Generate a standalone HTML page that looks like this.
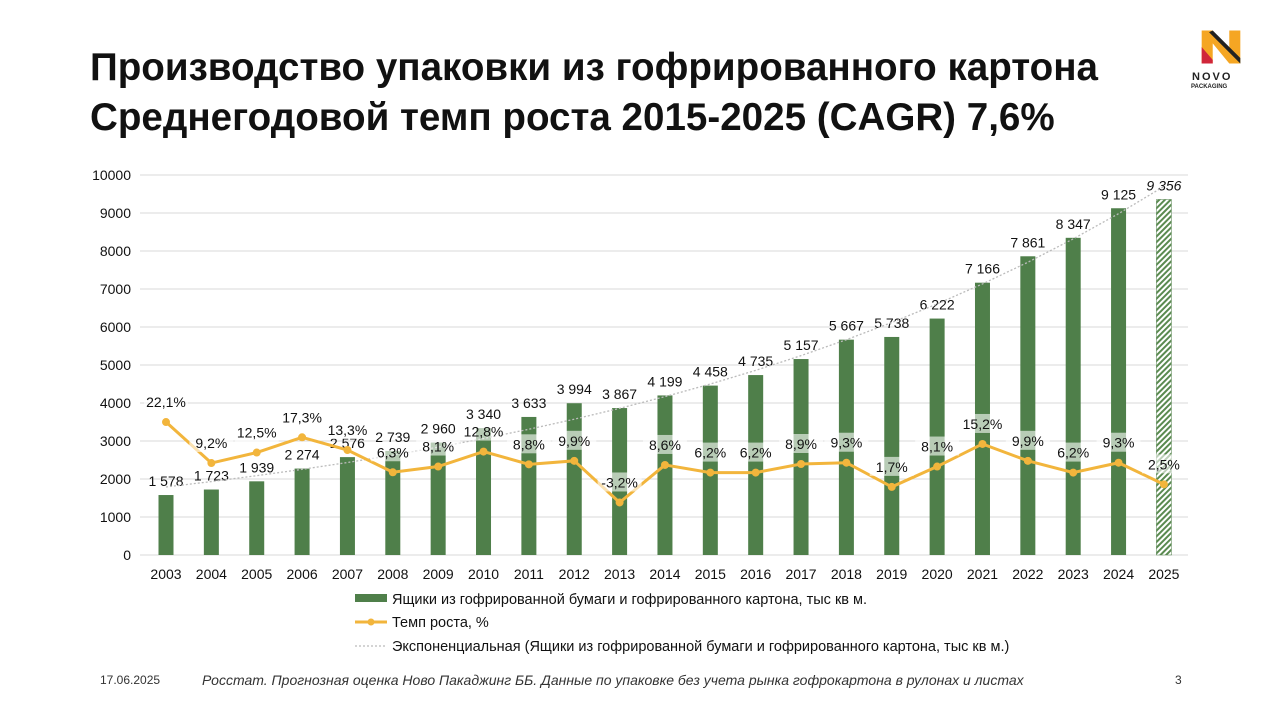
<!DOCTYPE html>
<html><head><meta charset="utf-8"><style>
body{margin:0;width:1280px;height:720px;background:#fff;font-family:"Liberation Sans",sans-serif;overflow:hidden;position:relative}
h1{position:absolute;left:90px;top:43px;margin:0;font-size:38.6px;line-height:50px;font-weight:bold;color:#111}
.f{position:absolute;top:672px;font-size:14px;color:#333}
</style></head><body>
<h1>Производство упаковки из гофрированного картона<br>Среднегодовой темп роста 2015-2025 (CAGR) 7,6%</h1>
<svg style="position:absolute;left:1198px;top:26px" width="46" height="42" viewBox="0 0 50 44">
<path d="M4 4 h12 l18 22 V4 h12 v36 h-12 l-18 -22 v22 h-12z" fill="#f5a623"/>
<path d="M4 22 l12 14 v4 h-12z" fill="#d0263a"/>
<path d="M16 4 l30 30 v6 l-34 -34z" fill="#222"/>
</svg>
<div style="position:absolute;left:1192px;top:71px;font-size:11px;font-weight:bold;letter-spacing:2px;color:#222">NOVO</div>
<div style="position:absolute;left:1191px;top:84px;font-size:6px;font-weight:bold;color:#222">PACKAGING</div>
<svg id="c" style="position:absolute;left:0;top:0" width="1280" height="720"></svg>
<div class="f" style="left:100px;font-size:12px;top:673px">17.06.2025</div>
<div class="f" style="left:202px;font-style:italic">Росстат. Прогнозная оценка Ново Пакаджинг ББ. Данные по упаковке без учета рынка гофрокартона в рулонах и листах</div>
<div class="f" style="left:1175px;font-size:12px;top:673px">3</div>
<script>
const v=[1578,1723,1939,2274,2576,2739,2960,3340,3633,3994,3867,4199,4458,4735,5157,5667,5738,6222,7166,7861,8347,9125,9356];
const p=[22.1,9.2,12.5,17.3,13.3,6.3,8.1,12.8,8.8,9.9,-3.2,8.6,6.2,6.2,8.9,9.3,1.7,8.1,15.2,9.9,6.2,9.3,2.5];
const X=i=>166+i*45.36, Y=u=>555-u*0.038, P=q=>492.3-3.18*q;
let s='<defs><pattern id="h" width="4" height="4" patternUnits="userSpaceOnUse" patternTransform="rotate(45)"><rect width="4" height="4" fill="#fff"/><rect width="2" height="4" fill="#5a8a50"/></pattern></defs>';
for(let k=0;k<=10;k++){const y=Y(k*1000);s+=`<line x1="140" x2="1188" y1="${y}" y2="${y}" stroke="#d9d9d9"/><text x="131" y="${y+5}" font-size="14" text-anchor="end" fill="#111">${k*1000}</text>`;}
const fmt=n=>{let t=String(n);return t.length>3?t.slice(0,-3)+' '+t.slice(-3):t};
v.forEach((u,i)=>{const x=X(i);s+=`<rect x="${x-7.5}" y="${Y(u)}" width="15" height="${u*0.038}" fill="${i==22?'url(#h)':'#4f7f4a'}" ${i==22?'stroke="#4f7f4a" stroke-width="0.5"':''}/>`;
s+=`<text x="${x}" y="${Y(u)-9}" font-size="14" text-anchor="middle" fill="#111" ${i==22?'font-style="italic"':''}>${fmt(u)}</text>`;
s+=`<text x="${x}" y="579" font-size="14" text-anchor="middle" fill="#111">${2003+i}</text>`;});
let tr='';for(let i=0;i<=22;i++){const u=1790*Math.exp(Math.log(9700/1790)*i/22);tr+=(i?'L':'M')+X(i)+' '+Y(u);}
s+=`<path d="${tr}" fill="none" stroke="#bbb" stroke-width="1.3" stroke-dasharray="2 2"/>`;
s+=`<polyline points="${p.map((q,i)=>X(i)+','+P(q)).join(' ')}" fill="none" stroke="#f2b53c" stroke-width="3"/>`;
p.forEach((q,i)=>{const x=X(i),y=P(q);s+=`<circle cx="${x}" cy="${y}" r="4" fill="#f2b53c"/>`;
const t=String(q).replace('.',',')+'%';s+=`<rect x="${x-22}" y="${y-30}" width="44" height="19" fill="#fff" opacity="0.6"/><text x="${x}" y="${y-15}" font-size="14" text-anchor="middle" fill="#111">${t}</text>`;});
s+=`<rect x="355" y="594" width="32" height="8" fill="#4f7f4a"/><text x="392" y="604" font-size="14.5" fill="#111">Ящики из гофрированной бумаги и гофрированного картона, тыс кв м.</text>`;
s+=`<line x1="355" x2="387" y1="622" y2="622" stroke="#f2b53c" stroke-width="3"/><circle cx="371" cy="622" r="3.5" fill="#f2b53c"/><text x="392" y="627" font-size="14.5" fill="#111">Темп роста, %</text>`;
s+=`<line x1="355" x2="387" y1="646" y2="646" stroke="#bbb" stroke-width="1.3" stroke-dasharray="2 2"/><text x="392" y="651" font-size="14.5" fill="#111">Экспоненциальная (Ящики из гофрированной бумаги и гофрированного картона, тыс кв м.)</text>`;
document.getElementById('c').innerHTML=s;
</script>
</body></html>
